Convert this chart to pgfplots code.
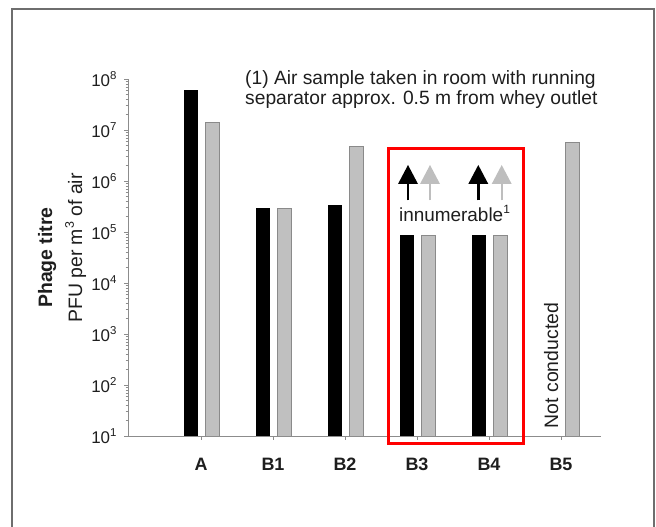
\documentclass[border=0pt]{standalone}
\usepackage{fontspec}
\setmainfont{Liberation Sans}
\usepackage{graphicx}
\usepackage{pgfplots}
\pgfplotsset{compat=1.18}
\definecolor{barfill}{HTML}{C0C0C0}
\definecolor{baredge}{HTML}{8A8A8A}
\definecolor{axgray}{HTML}{8C8C8C}
\definecolor{framegray}{HTML}{6E6E6E}
\definecolor{arrowgray}{HTML}{BEBEBE}
\definecolor{txt}{HTML}{1E1E1E}
\newcommand\fs[1]{\fontsize{#1}{#1}\selectfont}
\newcommand\sups[2][11.5]{\raisebox{0.42em}{\fontsize{#1}{#1}\selectfont #2}}
\begin{document}
\begin{tikzpicture}
\useasboundingbox (0,0) rectangle (656bp,527bp);
\begin{axis}[
  at={(128bp,91bp)}, anchor=south west,
  scale only axis, width=473bp, height=357bp,
  ymode=log, log origin=infty,
  ymin=10, ymax=1e8,
  xmin=-1.014, xmax=5.556,
  axis lines*=left,
  axis line style={axgray, line width=0.9bp},
  xtick={0,1,2,3,4,5},
  xticklabels={A,B1,B2,B3,B4,B5},
  ytick={1e1,1e2,1e3,1e4,1e5,1e6,1e7,1e8},
  minor ytick={20,30,40,50,60,70,80,90,
    200,300,400,500,600,700,800,900,
    2000,3000,4000,5000,6000,7000,8000,9000,
    2e4,3e4,4e4,5e4,6e4,7e4,8e4,9e4,
    2e5,3e5,4e5,5e5,6e5,7e5,8e5,9e5,
    2e6,3e6,4e6,5e6,6e6,7e6,8e6,9e6,
    2e7,3e7,4e7,5e7,6e7,7e7,8e7,9e7},
  yticklabels={10\sups{1},10\sups{2},10\sups{3},10\sups{4},10\sups{5},10\sups{6},10\sups{7},10\sups{8}},
  tick align=outside,
  major tick length=4bp, minor tick length=2.5bp,
  every tick/.style={axgray, line width=0.7bp},
  x tick label style={font=\bfseries\fs{18}, text=txt, text height=13bp, text depth=0bp, yshift=-14bp},
  y tick label style={font=\fs{17}, text=txt, xshift=-4bp},
  clip=true,
]
\addplot[ybar, bar width=13.5bp, bar shift=-10bp, fill=black, draw=black, line width=0.6bp]
  coordinates {(0,5.9e7) (1,2.86e5) (2,3.34e5) (3,8.73e4) (4,8.73e4)};
\addplot[ybar, bar width=13.5bp, bar shift=11.5bp, fill=barfill, draw=baredge, line width=0.8bp]
  coordinates {(0,1.42e7) (1,2.86e5) (2,4.71e6) (3,8.73e4) (4,8.73e4) (5,5.64e6)};
\end{axis}
\begin{scope}[x=1bp, y=1bp]
  % outer frame (open at the bottom, cut by the page)
  \draw[framegray, line width=1.2bp] (12,0) -- (12,518) -- (654,518) -- (654,0);
  % axis titles
  \node[rotate=90, anchor=base, inner sep=0, text=txt, font=\bfseries\fs{19.5}] at (52,269.5) {Phage titre};
  \node[rotate=90, anchor=base, inner sep=0, text=txt, font=\fs{19.5}] at (82,279) {PFU per m\sups[12.5]{3} of air};
  % note
  \node[anchor=base west, inner sep=0, text=txt, font=\fs{19.3}] at (245,442) {(1) Air sample taken in room with running};
  \node[anchor=base west, inner sep=0, text=txt, font=\fs{19.3}] at (245,422.5) {separator approx. 0.5 m from whey outlet};
  % red box
  \draw[red, line width=3bp] (388.5,378.5) rectangle (523.5,83);
  % arrows
  \foreach \ax/\col/\lw in {408/black/2.5, 430/arrowgray/2, 478.3/black/2.5, 501.7/arrowgray/2}{
    \draw[\col, line width=\lw bp] (\ax,326.5) -- (\ax,344);
    \fill[\col] (\ax-10,343) -- (\ax+10,343) -- (\ax,362) -- cycle;
  }
  \node[anchor=base, inner sep=0, text=txt, font=\fs{19}] at (454.5,306) {innumerable\sups[12]{1}};
  \node[rotate=90, anchor=base, inner sep=0, text=txt, font=\fs{19.5}] at (558,161.5) {Not conducted};
\end{scope}
\end{tikzpicture}
\end{document}
